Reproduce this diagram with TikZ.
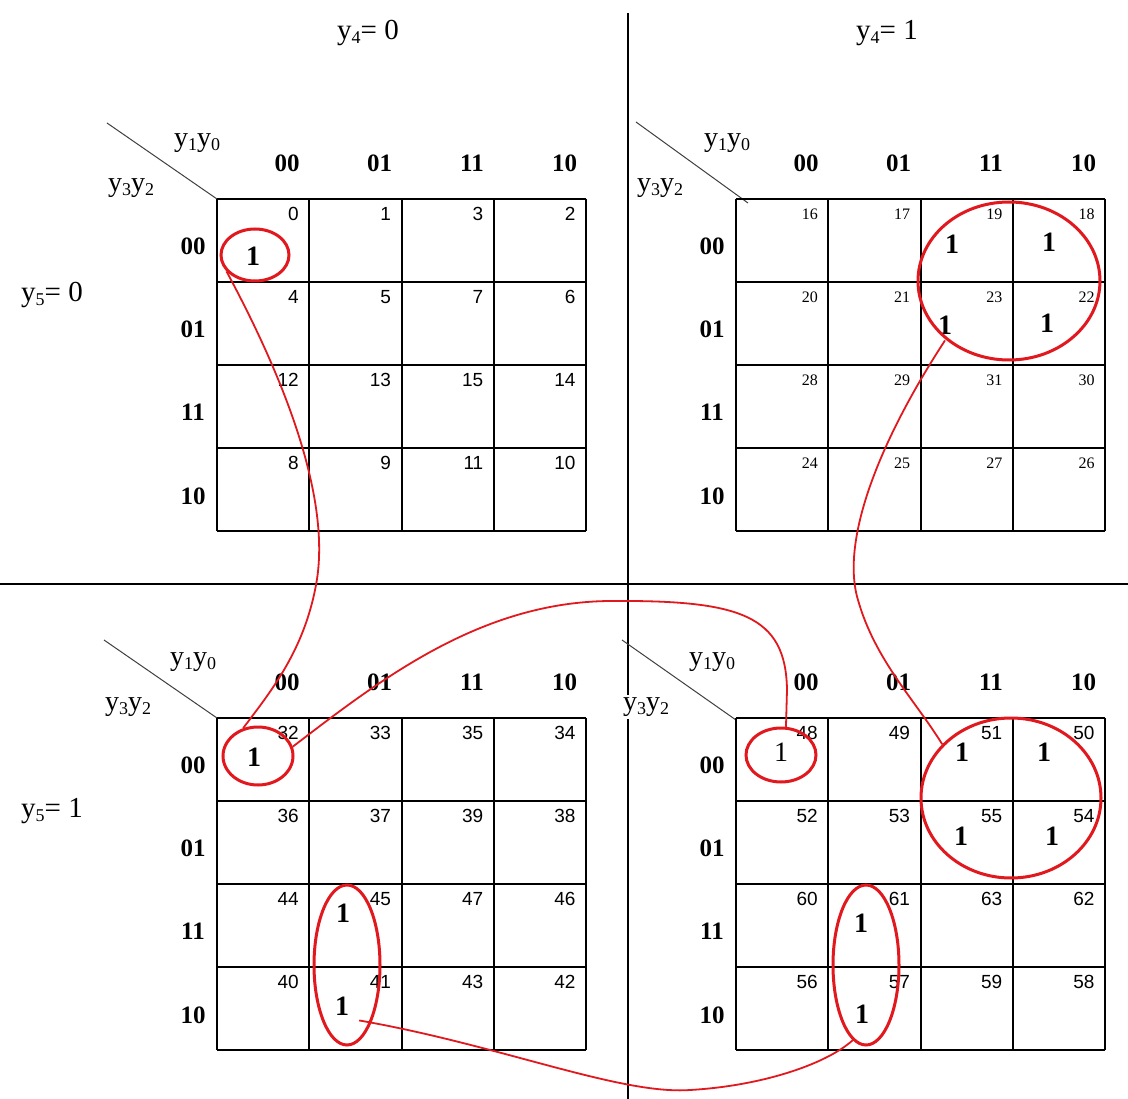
\documentclass[tikz,border=0pt]{standalone}
\usepackage{fontspec}
\setmainfont{Liberation Serif}
\newfontfamily\numsans{Liberation Sans}
\usetikzlibrary{shapes.geometric}
\definecolor{kred}{RGB}{225,25,30}
\newcommand\lsub[1]{\raisebox{-0.15em}{\fontsize{18}{18}\selectfont #1}}
\newcommand\numA{\numsans\fontsize{19}{21}\selectfont}
\newcommand\numB{\fontsize{16}{18}\selectfont}
\tikzset{
  gridline/.style={black, line width=1.3pt},
  divider/.style={black, line width=1.2pt},
  diag/.style={black!75, line width=1pt},
  hdr/.style={font=\fontsize{25}{28}\selectfont\bfseries, inner sep=0pt},
  onelbl/.style={font=\fontsize{28}{30}\selectfont\bfseries, inner sep=0pt},
  onethin/.style={font=\fontsize{28}{30}\selectfont, inner sep=0pt},
  varlbl/.style={font=\fontsize{28}{30}\selectfont, inner sep=1pt},
  toplbl/.style={font=\fontsize{29}{31}\selectfont, inner sep=1pt},
  ring/.style={ellipse, draw=kred, line width=3pt, inner sep=0pt},
  link/.style={kred, line width=1.8pt},
}
\begin{document}
\begin{tikzpicture}[x=1pt,y=-1pt]
\fill[white] (0,0) rectangle (1128,1099);
\useasboundingbox (0,0) rectangle (1128,1099);

% dividers
\draw[divider] (628,13) -- (628,1099);
\draw[divider] (0,584) -- (1128,584);

% top labels
\node[toplbl] (ly40) at (368,33) {y\lsub{4}= 0};
\node[toplbl] (ly41) at (887,33) {y\lsub{4}= 1};
\node[toplbl] (ly50) at (52,295) {y\lsub{5}= 0};
\node[toplbl] (ly51) at (52,811) {y\lsub{5}= 1};

% diagonals
\draw[diag] (107,123) -- (217,199);
\draw[diag] (636,122) -- (748,203);
\draw[diag] (104,640) -- (217,718);
\draw[diag] (622,640) -- (736,720);

% corner labels
\node[varlbl] (a1) at (197,143) {y\lsub{1}y\lsub{0}};
\node[varlbl] (a2) at (131,188) {y\lsub{3}y\lsub{2}};
\node[varlbl] (b1) at (727,143) {y\lsub{1}y\lsub{0}};
\node[varlbl] (b2) at (660,188) {y\lsub{3}y\lsub{2}};
\node[varlbl] (c1) at (193,662) {y\lsub{1}y\lsub{0}};
\node[varlbl] (c2) at (128,707) {y\lsub{3}y\lsub{2}};
\node[varlbl] (d1) at (712,662) {y\lsub{1}y\lsub{0}};
\node[varlbl, fill=white, inner sep=3pt] (d2) at (646,707) {y\lsub{3}y\lsub{2}};

% maps
\foreach \qx/\qy/\qoff/\fnt/\qn in {217/199/0/\numA/A, 736/199/16/\numB/B, 217/718/32/\numA/C, 736/718/48/\numA/D} {
  \foreach \dx in {0,92,185,277,369}
    \draw[gridline] (\qx+\dx,\qy) -- (\qx+\dx,\qy+332);
  \foreach \dy in {0,83,166,249,332}
    \draw[gridline] (\qx,\qy+\dy) -- (\qx+369,\qy+\dy);
  \foreach \k/\g/\lab in {0/0/00,1/1/01,2/3/11,3/2/10} {
    \node[hdr] (h\qn\k) at (\qx+70+\k*92.5,\qy-36) {\lab};
    \node[hdr] (r\qn\k) at (\qx-24,\qy+47+\k*83.3) {\lab};
  }
  \foreach \r/\rg in {0/0,1/1,2/3,3/2} {
    \foreach \c/\cg in {0/0,1/1,2/3,3/2} {
      \pgfmathtruncatemacro\nn{\qoff+4*\rg+\cg}
      \node[font=\fnt, anchor=east, inner sep=0pt] (n\nn) at (\qx+\c*92.25+82,\qy+\r*83+15) {\nn};
    }
  }
}

% ones
\node[onelbl] (o0) at (253,256) {1};
\node[onelbl] (o19) at (952,244) {1};
\node[onelbl] (o18) at (1049,242) {1};
\node[onelbl] (o23) at (945,325) {1};
\node[onelbl] (o22) at (1047,323) {1};
\node[onelbl] (o32) at (254,757) {1};
\node[onelbl] (o45) at (343,913) {1};
\node[onelbl] (o41) at (342,1006) {1};
\node[onethin] (o48) at (781,752) {1};
\node[onelbl] (o51) at (962,752) {1};
\node[onelbl] (o50) at (1044,752) {1};
\node[onelbl] (o55) at (961,836) {1};
\node[onelbl] (o54) at (1052,836) {1};
\node[onelbl] (o61) at (861,923) {1};
\node[onelbl] (o57) at (862,1014) {1};

% rings
\node[ring, minimum width=68pt, minimum height=52pt] (e0) at (255,255) {};
\node[ring, minimum width=182pt, minimum height=158pt] (E19) at (1009,281) {};
\node[ring, minimum width=70pt, minimum height=58pt] (e32) at (258,756) {};
\node[ring, minimum width=66pt, minimum height=160pt] (e45) at (347,965) {};
\node[ring, minimum width=70pt, minimum height=54pt] (e48) at (781,755) {};
\node[ring, minimum width=180pt, minimum height=160pt] (E51) at (1011,798) {};
\node[ring, minimum width=66pt, minimum height=160pt] (e61) at (866,965) {};

% links
\draw[link] (e0.210) .. controls (285,380) and (332,500) .. (316,585)
  .. controls (304,650) and (272,690) .. (e32.118);
\draw[link] (e32.15) .. controls (380,680) and (480,602) .. (610,601)
  .. controls (740,600) and (786,615) .. (787,690) -- (e48.80);
\draw[link] ([yshift=-6pt]o23.south) .. controls (880,440) and (840,540) .. (858,600)
  .. controls (875,660) and (915,700) .. (E51.142);
\draw[link] ([xshift=10pt,yshift=-5pt]o41.south east) .. controls (500,1045) and (620,1095) .. (690,1090)
  .. controls (760,1086) and (825,1065) .. (e61.260);
\end{tikzpicture}
\end{document}
